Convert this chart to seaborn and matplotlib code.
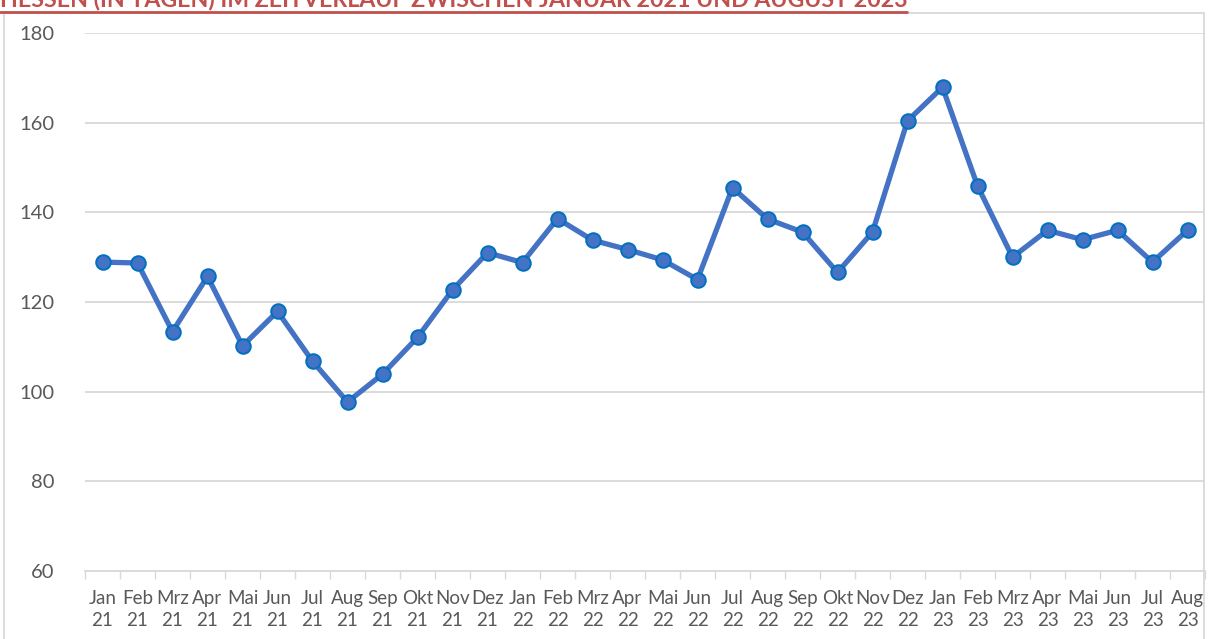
import seaborn as sns
import matplotlib.pyplot as plt
from matplotlib.lines import Line2D
from matplotlib.patches import Rectangle
import pandas as pd

months = ['Jan', 'Feb', 'Mrz', 'Apr', 'Mai', 'Jun', 'Jul', 'Aug', 'Sep', 'Okt', 'Nov', 'Dez']
years = ['21'] * 12 + ['22'] * 12 + ['23'] * 8
labels = [f'{months[i % 12]}\n{y}' for i, y in enumerate(years)]
days = [128.9, 128.7, 113.4, 125.7, 110.2, 117.9, 106.8, 97.7, 103.9, 112.1, 122.7, 131.0,
        128.8, 138.6, 133.8, 131.7, 129.4, 125.0, 145.5, 138.5, 135.6, 126.6, 135.6, 160.4,
        167.9, 145.9, 130.0, 136.0, 133.9, 136.0, 128.9, 136.0]

df = pd.DataFrame({'pos': range(len(days)), 'tage': days})

sns.set_theme(style='white')
plt.rcParams['font.family'] = ['Lato', 'DejaVu Sans']

fig = plt.figure(figsize=(12.08, 6.39), dpi=100)
ax = fig.add_axes([85 / 1208, 1 - 571 / 639, 1120 / 1208, 538 / 639])

sns.lineplot(data=df, x='pos', y='tage', ax=ax, color='#4472C4', linewidth=3.8,
             marker='o', markersize=10.5, markerfacecolor='#4472C4',
             markeredgecolor='#0070C0', markeredgewidth=1.4, zorder=3)

ax.set_xlim(-0.5, len(days) - 0.5)
ax.set_ylim(60, 180)
ax.set_yticks(range(60, 181, 20))
ax.yaxis.grid(True, color='#d9d9d9', linewidth=1.3)
ax.set_xticks(range(len(days)))
ax.set_xticklabels(labels, linespacing=1.35)
ax.set_xticks([i - 0.5 for i in range(len(days) + 1)], minor=True)
ax.tick_params(axis='x', which='major', length=0, pad=14, labelsize=13.5, colors='#595959')
ax.tick_params(axis='x', which='minor', length=6, width=1, color='#d9d9d9', bottom=True)
ax.tick_params(axis='y', length=0, pad=22, labelsize=14.5, colors='#595959')
ax.set_xlabel('')
ax.set_ylabel('')
for side in ['top', 'right', 'left']:
    ax.spines[side].set_visible(False)
ax.spines['bottom'].set_color('#d9d9d9')
ax.spines['bottom'].set_linewidth(1.3)

# chart frame
fig.patches.append(Rectangle((4 / 1208, -0.05), 1200 / 1208, 1.05 - 13 / 639,
                             transform=fig.transFigure, fill=False,
                             edgecolor='#d9d9d9', linewidth=1.3))

# title, cropped at the top like in the source image, underlined
title = fig.text(0, 1 + 1 / 639, 'HESSEN (IN TAGEN) IM ZEITVERLAUF ZWISCHEN JANUAR 2021 UND AUGUST 2023',
                 ha='left', va='center', fontsize=15, fontweight='bold', color='#C0504D')
fig.canvas.draw()
w = title.get_window_extent().width
title.set_fontsize(15 * 905 / w)
fig.lines.append(Line2D([0, 907 / 1208], [1 - 12 / 639] * 2, transform=fig.transFigure,
                        color='#C0504D', linewidth=2))

fig.savefig('out.png', dpi=100)
